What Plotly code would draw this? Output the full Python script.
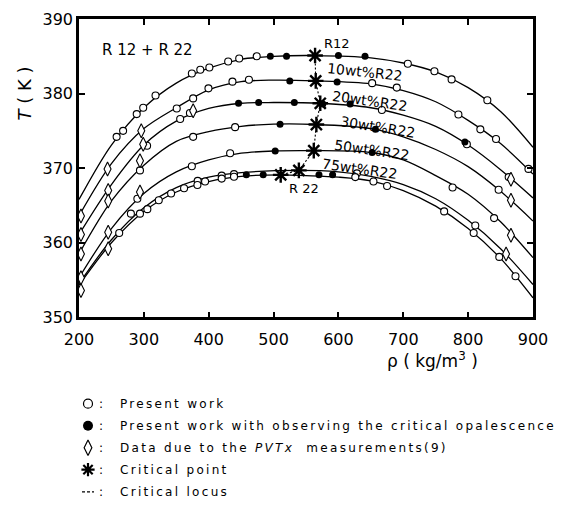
import plotly.graph_objects as go

FONT = "DejaVu Sans"

# ---------------- curve readings (rho in kg/m3, T in K) ----------------
r12_rho = [200, 250, 300, 350, 400, 450, 500, 564, 650, 700, 750, 800, 850, 900]
r12_T   = [365.8, 373.1, 378.1, 381.4, 383.4, 384.6, 385.0, 385.1, 384.8, 384.1, 382.9, 380.8, 377.6, 372.8]

w10_rho = [200, 250, 300, 350, 400, 450, 500, 565, 650, 700, 750, 800, 850, 900]
w10_T   = [363.6, 370.6, 375.3, 378.1, 380.5, 381.6, 381.8, 381.7, 381.3, 380.4, 378.9, 376.4, 373.3, 369.2]

w20_rho = [200, 250, 300, 350, 400, 450, 500, 572, 650, 700, 750, 800, 850, 900]
w20_T   = [361.1, 367.8, 373.1, 376.3, 378.0, 378.7, 378.8, 378.7, 378.1, 377.1, 375.6, 373.1, 369.8, 366.0]

w30_rho = [200, 250, 300, 350, 400, 450, 500, 566, 650, 700, 750, 800, 850, 900]
w30_T   = [358.5, 365.6, 370.4, 373.6, 374.9, 375.6, 375.9, 375.85, 375.3, 374.2, 372.5, 370.2, 366.9, 362.9]

w50_rho = [200, 250, 300, 350, 400, 450, 500, 562, 650, 700, 750, 800, 850, 900]
w50_T   = [355.3, 361.9, 366.6, 369.5, 371.1, 372.0, 372.3, 372.35, 372.1, 371.1, 369.0, 366.5, 362.8, 358.0]

w75_rho = [200, 250, 300, 350, 400, 450, 539, 600, 650, 700, 750, 800, 850, 900]
w75_T   = [354.5, 360.4, 364.7, 367.4, 368.8, 369.4, 369.7, 369.5, 368.9, 367.8, 365.9, 363.0, 359.2, 354.4]

r22_rho = [200, 250, 300, 350, 400, 450, 511, 550, 600, 650, 700, 750, 800, 850, 900]
r22_T   = [354.3, 360.0, 364.2, 366.8, 368.2, 368.9, 369.1, 369.0, 368.8, 368.3, 367.0, 364.9, 361.9, 357.9, 352.6]

# ---------------- measured points ----------------
open_rho = [258, 268, 289, 299, 318, 374, 387, 401, 430, 447, 474, 707, 748, 774.5, 829.6,
            350.7, 376, 399.6, 436.6, 462, 652, 690, 785, 818.8, 843, 893,
            356, 371, 305, 667, 798, 862.5,
            294, 376, 440.7, 847,
            290, 374, 433, 776, 840,
            383, 420, 439, 628.5, 811,
            262, 280, 294, 305.4, 323, 342, 362, 382.6, 394.4, 420, 439, 626, 654, 675, 763, 808.5, 848, 873]
open_T   = [374.2, 375.0, 377.25, 378.1, 379.75, 382.7, 383.2, 383.5, 384.3, 384.7, 385.0, 384.0, 383.0, 381.9, 379.1,
            378.0, 379.35, 380.7, 381.6, 381.85, 381.4, 380.8, 377.2, 375.2, 373.9, 369.9,
            376.6, 377.4, 373.0, 377.8, 373.2, 368.8,
            369.7, 374.2, 375.5, 367.1,
            365.9, 370.25, 372.0, 367.4, 363.3,
            368.3, 369.0, 369.2, 369.3, 362.3,
            361.3, 363.9, 363.9, 364.5, 365.7, 366.6, 367.3, 367.75, 368.2, 368.6, 368.85, 368.8, 368.2, 367.6, 364.2, 361.3, 358.1, 355.5]

filled_rho = [495, 520, 600, 641, 525, 598, 446, 477, 532, 576, 618, 795, 510, 657, 502.5, 652, 458, 484, 570, 591]
filled_T   = [385.0, 385.0, 385.1, 385.0, 381.7, 381.55, 378.7, 378.8, 378.8, 378.6, 378.6, 373.5, 375.9, 375.2, 372.3, 372.1,
              369.1, 369.1, 369.1, 369.1]

diamond_rho = [203, 244, 296,
               203, 245, 299, 376, 866,
               203, 245, 294, 866,
               203, 245, 294, 866,
               203, 245, 858.5]
diamond_T   = [363.6, 369.9, 375.0,
               361.1, 367.0, 373.2, 377.7, 368.5,
               358.5, 365.6, 371.0, 365.7,
               355.3, 361.4, 366.8, 361.0,
               353.6, 359.2, 358.5]

crit_rho = [564, 565, 572, 566, 562, 539, 511]
crit_T   = [385.1, 381.7, 378.7, 375.85, 372.35, 369.7, 369.1]

curve_labels = ["10wt%R22", "20wt%R22", "30wt%R22", "50wt%R22", "75wt%R22"]
label_rho = [641, 649, 661, 651, 634]
label_T = [382.85, 379.05, 375.55, 372.45, 369.95]
label_angle = [6, 8, 9, 8, 8]

legend_texts = ["Present work",
                "Present work with observing the critical opalescence",
                "Data due to the <i>PVTx</i>  measurements(9)",
                "Critical point",
                "Critical locus"]

# ---------------- figure geometry (screen pixels; body margin removed) ----------------
W, H = 571, 520
L, R, TOP, B = 79, 38, 19, 10
PW, PH = W - L - R, H - TOP - B
Y0 = (H - B - 323.5) / PH  # bottom of main plot (paper fraction)


def px(xs):  # screen x -> paper fraction
    return (xs - L) / PW


def py(ys):  # screen y -> paper fraction
    return (H - B - ys) / PH


fig = go.Figure()

line_style = dict(color="black", width=1.3, shape="spline", smoothing=0.9)
for rr, tt in [(r12_rho, r12_T), (w10_rho, w10_T), (w20_rho, w20_T), (w30_rho, w30_T),
               (w50_rho, w50_T), (w75_rho, w75_T), (r22_rho, r22_T)]:
    fig.add_trace(go.Scatter(x=rr, y=tt, mode="lines", line=line_style,
                             hoverinfo="skip", showlegend=False))

# critical locus
fig.add_trace(go.Scatter(x=crit_rho, y=crit_T, mode="lines",
                         line=dict(color="black", width=1.1, dash="2px,2px"),
                         hoverinfo="skip", showlegend=False))

fig.add_trace(go.Scatter(x=open_rho, y=open_T, mode="markers", cliponaxis=False,
                         marker=dict(symbol="circle", size=7, color="white",
                                     line=dict(color="black", width=1.1)), showlegend=False))
fig.add_trace(go.Scatter(x=diamond_rho, y=diamond_T, mode="markers", cliponaxis=False,
                         marker=dict(symbol="diamond-tall", size=10, color="white",
                                     line=dict(color="black", width=1.1)), showlegend=False))
fig.add_trace(go.Scatter(x=filled_rho, y=filled_T, mode="markers", cliponaxis=False,
                         marker=dict(symbol="circle", size=7, color="black",
                                     line=dict(color="black", width=0)), showlegend=False))
fig.add_trace(go.Scatter(x=crit_rho, y=crit_T, mode="markers", cliponaxis=False,
                         marker=dict(symbol="asterisk-open", size=13, color="black",
                                     line=dict(color="black", width=2.4)), showlegend=False))

# ---- legend drawn in a screen-pixel auxiliary axis ----
leg_y = [411.7, 434.3, 456.7, 479.0, 501.7]
fig.add_trace(go.Scatter(x=[88], y=[leg_y[0]], xaxis="x2", yaxis="y2", mode="markers",
                         marker=dict(symbol="circle", size=9, color="white",
                                     line=dict(color="black", width=1.2)), showlegend=False))
fig.add_trace(go.Scatter(x=[88], y=[leg_y[1]], xaxis="x2", yaxis="y2", mode="markers",
                         marker=dict(symbol="circle", size=10, color="black"), showlegend=False))
fig.add_trace(go.Scatter(x=[88], y=[leg_y[2]], xaxis="x2", yaxis="y2", mode="markers",
                         marker=dict(symbol="diamond-tall", size=11, color="white",
                                     line=dict(color="black", width=1.2)), showlegend=False))
fig.add_trace(go.Scatter(x=[88], y=[leg_y[3]], xaxis="x2", yaxis="y2", mode="markers",
                         marker=dict(symbol="asterisk-open", size=11, color="black",
                                     line=dict(color="black", width=2.2)), showlegend=False))
fig.add_trace(go.Scatter(x=[82, 94], y=[leg_y[4], leg_y[4]], xaxis="x2", yaxis="y2", mode="lines",
                         line=dict(color="black", width=1.1, dash="3px,2px"), showlegend=False))

annotations = []
for t, yy in zip(legend_texts, leg_y):
    annotations.append(dict(xref="x2", yref="y2", x=100.5, y=yy, text=":", showarrow=False,
                            font=dict(size=12, family=FONT), xanchor="center", yanchor="middle"))
    annotations.append(dict(xref="x2", yref="y2", x=118, y=yy,
                            text='<span style="letter-spacing:2.3px">' + t + "</span>",
                            showarrow=False, font=dict(size=12, family=FONT),
                            xanchor="left", yanchor="middle"))

# curve labels
for t, xx, yy, ang in zip(curve_labels, label_rho, label_T, label_angle):
    annotations.append(dict(x=xx, y=yy, text=t, showarrow=False, textangle=ang,
                            font=dict(size=14, family=FONT), xanchor="center", yanchor="middle"))
annotations.append(dict(x=598, y=386.7, text="R12", showarrow=False,
                        font=dict(size=13, family=FONT)))
annotations.append(dict(x=547, y=367.3, text="R 22", showarrow=False,
                        font=dict(size=13, family=FONT)))
annotations.append(dict(x=305, y=385.9, text="R 12 + R 22", showarrow=False,
                        font=dict(size=15, family=FONT)))

# axis titles
annotations.append(dict(xref="paper", yref="paper", x=px(24), y=py(95), text="<i>T</i> ( K )",
                        textangle=-90, showarrow=False, font=dict(size=18, family=FONT),
                        xanchor="center", yanchor="middle"))
annotations.append(dict(xref="paper", yref="paper", x=px(432), y=py(367),
                        text="ρ ( kg/m<sup>3</sup> )", showarrow=False,
                        font=dict(size=17, family=FONT), xanchor="center", yanchor="middle"))

axis_common = dict(showline=True, linewidth=2.5, linecolor="black", mirror="ticks",
                   ticks="inside", ticklen=6, tickwidth=1.5, tickcolor="black",
                   showgrid=False, zeroline=False,
                   tickfont=dict(size=16, family=FONT, color="black"))

fig.update_layout(
    width=W, height=H,
    margin=dict(l=L, r=R, t=TOP, b=B),
    paper_bgcolor="white", plot_bgcolor="white",
    showlegend=False,
    font=dict(family=FONT, color="black"),
    xaxis=dict(domain=[0, 1], anchor="y", range=[200, 900],
               tickvals=list(range(200, 901, 100)), ticklabelstandoff=6, **axis_common),
    yaxis=dict(domain=[Y0, 1], anchor="x", range=[350, 390],
               tickvals=[350, 360, 370, 380, 390], **axis_common),
    xaxis2=dict(domain=[0, 1], anchor="y2", range=[79, 533], visible=False),
    yaxis2=dict(domain=[0, Y0], anchor="x2", range=[510, 323.5], visible=False),
    annotations=annotations,
)

fig.write_html("out.html", config={"displayModeBar": False},
               post_script="document.body.style.margin='0px';document.body.style.overflow='hidden';")
